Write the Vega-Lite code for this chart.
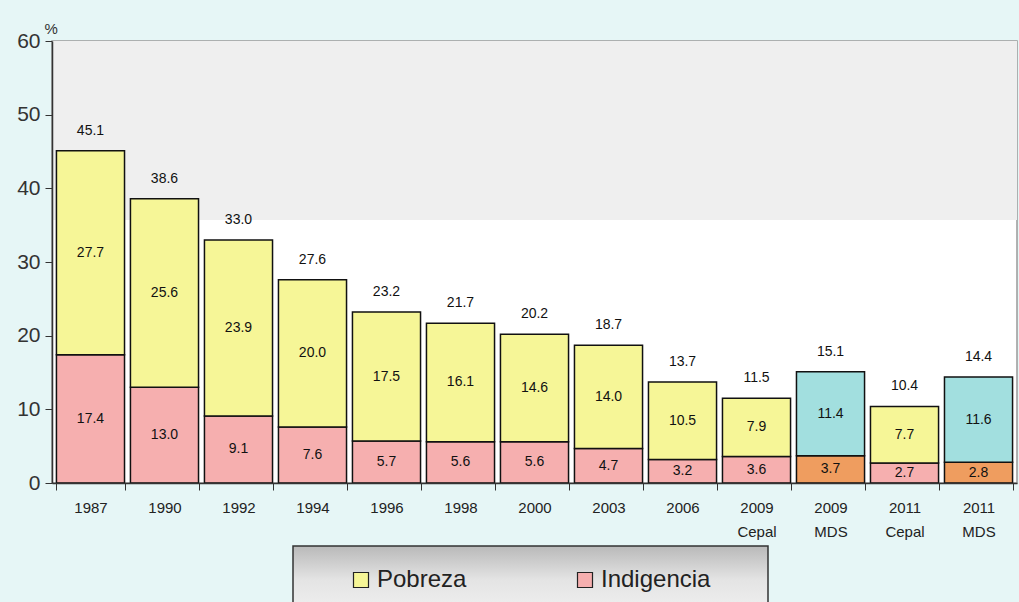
{
  "$schema": "https://vega.github.io/schema/vega-lite/v6.json",
  "width": 965,
  "height": 442,
  "autosize": {"type": "none"},
  "padding": {"left": 52, "top": 41, "right": 2, "bottom": 119},
  "background": "#e6f6f6",
  "config": {
    "font": "Liberation Sans",
    "view": {"stroke": "#999999", "strokeWidth": 1.5, "fill": "white"}
  },
  "datasets": {
    "bars": [
      {"cat": "1987", "serie": "Indigencia", "orden": 1, "valor": 17.4},
      {"cat": "1987", "serie": "Pobreza", "orden": 2, "valor": 27.7},
      {"cat": "1990", "serie": "Indigencia", "orden": 1, "valor": 13.0},
      {"cat": "1990", "serie": "Pobreza", "orden": 2, "valor": 25.6},
      {"cat": "1992", "serie": "Indigencia", "orden": 1, "valor": 9.1},
      {"cat": "1992", "serie": "Pobreza", "orden": 2, "valor": 23.9},
      {"cat": "1994", "serie": "Indigencia", "orden": 1, "valor": 7.6},
      {"cat": "1994", "serie": "Pobreza", "orden": 2, "valor": 20.0},
      {"cat": "1996", "serie": "Indigencia", "orden": 1, "valor": 5.7},
      {"cat": "1996", "serie": "Pobreza", "orden": 2, "valor": 17.5},
      {"cat": "1998", "serie": "Indigencia", "orden": 1, "valor": 5.6},
      {"cat": "1998", "serie": "Pobreza", "orden": 2, "valor": 16.1},
      {"cat": "2000", "serie": "Indigencia", "orden": 1, "valor": 5.6},
      {"cat": "2000", "serie": "Pobreza", "orden": 2, "valor": 14.6},
      {"cat": "2003", "serie": "Indigencia", "orden": 1, "valor": 4.7},
      {"cat": "2003", "serie": "Pobreza", "orden": 2, "valor": 14.0},
      {"cat": "2006", "serie": "Indigencia", "orden": 1, "valor": 3.2},
      {"cat": "2006", "serie": "Pobreza", "orden": 2, "valor": 10.5},
      {"cat": "2009 Cepal", "serie": "Indigencia", "orden": 1, "valor": 3.6},
      {"cat": "2009 Cepal", "serie": "Pobreza", "orden": 2, "valor": 7.9},
      {"cat": "2009 MDS", "serie": "Indigencia MDS", "orden": 1, "valor": 3.7},
      {"cat": "2009 MDS", "serie": "Pobreza MDS", "orden": 2, "valor": 11.4},
      {"cat": "2011 Cepal", "serie": "Indigencia", "orden": 1, "valor": 2.7},
      {"cat": "2011 Cepal", "serie": "Pobreza", "orden": 2, "valor": 7.7},
      {"cat": "2011 MDS", "serie": "Indigencia MDS", "orden": 1, "valor": 2.8},
      {"cat": "2011 MDS", "serie": "Pobreza MDS", "orden": 2, "valor": 11.6}
    ],
    "band": [{"lo": 35.7, "hi": 60}]
  },
  "layer": [
    {
      "data": {"name": "band"},
      "mark": {"type": "rect", "fill": "#efefef"},
      "encoding": {
        "y": {"field": "lo", "type": "quantitative", "scale": {"domain": [0, 60]}},
        "y2": {"field": "hi"}
      }
    },
    {
      "data": {"name": "bars"},
      "transform": [
        {"stack": "valor", "groupby": ["cat"], "sort": [{"field": "orden"}], "as": ["v0", "v1"]}
      ],
      "mark": {"type": "bar", "stroke": "#111111", "strokeWidth": 1.5},
      "encoding": {
        "x": {
          "field": "cat", "type": "nominal", "sort": null,
          "scale": {"paddingInner": 0.08, "paddingOuter": 0.06},
          "axis": {
            "title": null, "labelAngle": 0, "tickBand": "extent", "zindex": 1,
            "labelExpr": "isValid(datum.value) ? split(datum.value, ' ') : ''",
            "labelFontSize": 15, "labelColor": "#222222", "labelLineHeight": 24,
            "labelPadding": 10, "tickSize": 7, "tickColor": "#333333",
            "domainColor": "#333333", "domainWidth": 1.5
          }
        },
        "y": {
          "field": "v1", "type": "quantitative",
          "scale": {"domain": [0, 60]},
          "axis": {
            "values": [0, 10, 20, 30, 40, 50, 60], "grid": false, "zindex": 1,
            "title": "%", "titleAngle": 0, "titleAlign": "left", "titleBaseline": "bottom",
            "titleX": -8, "titleY": -5, "titleFontSize": 15, "titleFontWeight": "normal", "titleColor": "#333333",
            "labelFontSize": 21, "labelColor": "#333333", "labelPadding": 5,
            "tickSize": 7, "tickColor": "#333333", "domainColor": "#333333", "domainWidth": 1.5
          }
        },
        "y2": {"field": "v0"},
        "color": {
          "field": "serie", "type": "nominal",
          "scale": {
            "domain": ["Pobreza", "Indigencia", "Pobreza MDS", "Indigencia MDS"],
            "range": ["#f6f697", "#f6afaf", "#a2dfdf", "#ef9d5f"]
          },
          "legend": {
            "values": ["Pobreza", "Indigencia"],
            "title": "\u00a0",
            "titleOrient": "right", "titlePadding": 36, "titleFontSize": 24,
            "orient": "none", "direction": "horizontal",
            "legendX": 241, "legendY": 505,
            "padding": 22,
            "symbolType": "square", "symbolSize": 225, "symbolStrokeColor": "#222222", "symbolStrokeWidth": 1.2,
            "symbolOffset": 34,
            "labelFontSize": 24, "labelColor": "#222222", "labelOffset": 4,
            "columnPadding": 72,
            "strokeColor": "#333333",
            "encode": {
              "legend": {
                "update": {
                  "fill": {"value": {"gradient": "linear", "x1": 0, "y1": 0, "x2": 0, "y2": 1,
                    "stops": [{"offset": 0, "color": "#b9b9b9"}, {"offset": 0.5, "color": "#e4e4e4"}, {"offset": 1, "color": "#f0f0f0"}]}},
                  "strokeWidth": {"value": 1.5}
                }
              }
            }
          }
        }
      }
    },
    {
      "data": {"name": "bars"},
      "transform": [
        {"stack": "valor", "groupby": ["cat"], "sort": [{"field": "orden"}], "as": ["v0", "v1"]},
        {"calculate": "(datum.v0 + datum.v1) / 2", "as": "mid"}
      ],
      "mark": {"type": "text", "fontSize": 14, "color": "#111111", "baseline": "middle"},
      "encoding": {
        "x": {"field": "cat", "type": "nominal", "sort": null},
        "y": {"field": "mid", "type": "quantitative"},
        "text": {"field": "valor", "type": "quantitative", "format": ".1f"}
      }
    },
    {
      "data": {"name": "bars"},
      "transform": [
        {"aggregate": [{"op": "sum", "field": "valor", "as": "total"}], "groupby": ["cat"]}
      ],
      "mark": {"type": "text", "fontSize": 14, "color": "#111111", "baseline": "middle", "dy": -20},
      "encoding": {
        "x": {"field": "cat", "type": "nominal", "sort": null},
        "y": {"field": "total", "type": "quantitative"},
        "text": {"field": "total", "type": "quantitative", "format": ".1f"}
      }
    }
  ]
}
